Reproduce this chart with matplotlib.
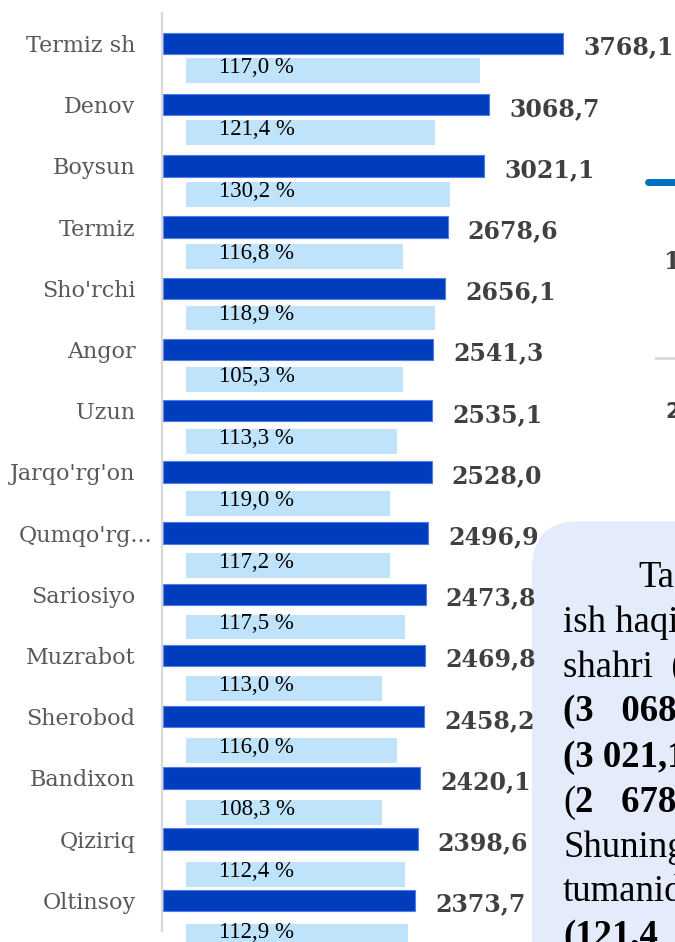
import matplotlib
matplotlib.use("Agg")
import matplotlib.pyplot as plt
from matplotlib.patches import FancyBboxPatch
from matplotlib.lines import Line2D
from matplotlib.transforms import ScaledTranslation

# ---------------- data ----------------
categories = ["Termiz sh", "Denov", "Boysun", "Termiz", "Sho'rchi", "Angor", "Uzun",
              "Jarqo'rg'on", "Qumqo'rg...", "Sariosiyo", "Muzrabot", "Sherobod",
              "Bandixon", "Qiziriq", "Oltinsoy"]
wages = [3768.1, 3068.7, 3021.1, 2678.6, 2656.1, 2541.3, 2535.1, 2528.0,
         2496.9, 2473.8, 2469.8, 2458.2, 2420.1, 2398.6, 2373.7]
growth_pct = [117.0, 121.4, 130.2, 116.8, 118.9, 105.3, 113.3, 119.0,
              117.2, 117.5, 113.0, 116.0, 108.3, 112.4, 112.9]
light_vals = [2770, 2345, 2485, 2040, 2345, 2045, 1990, 1920,
              1920, 2060, 1845, 1990, 1845, 2060, 2090]

box_lines = [("Ta", "normal"), ("ish haqi", "normal"), ("shahri  (", "normal"),
             ("(3   068", "bold"), ("(3 021,1", "bold"), ("2   678", "bold"),
             ("Shuningdek", "normal"), ("tumanida", "normal"), ("(121,4", "bold")]

# ---------------- figure ----------------
W, H = 675, 942
fig = plt.figure(figsize=(W / 100, H / 100), dpi=100)
fig.patch.set_facecolor("white")

DARK = "#003DBD"
DARK_EDGE = "#4F7FE6"
LIGHT = "#BFE3FA"
XMAX = 4820
XMIN = -10

n = len(categories)
pos = list(range(n))

# light series (separate, slightly offset axes)
ax2 = fig.add_axes([162 / W, 1 - 966.9 / H, 513 / W, 927 / H], zorder=2)
ax2.set_facecolor("none")
ax2.barh(pos, light_vals, left=215, height=0.40, color=LIGHT, linewidth=0)
for i, p in enumerate(growth_pct):
    ax2.text(527, i - 0.05, f"{p:.1f} %".replace(".", ","), ha="left", va="center",
             fontsize=16.5, family="Liberation Serif", color="black")
ax2.set_xlim(XMIN, XMAX)
ax2.set_ylim(n - 0.5, -0.5)
ax2.axis("off")

# main series
ax = fig.add_axes([162 / W, 1 - 931 / H, 513 / W, (931 - 12.9) / H], zorder=3)
ax.set_facecolor("none")
ax.barh(pos, wages, height=0.35, color=DARK, edgecolor=DARK_EDGE, linewidth=0.8)
for i, v in enumerate(wages):
    ax.text(v + 188, i + 0.065, f"{v:.1f}".replace(".", ","), ha="left", va="center",
            fontsize=17, fontweight="bold", family="DejaVu Serif", color="#404040",
            clip_on=False)
ax.set_xlim(XMIN, XMAX)
ax.set_ylim(n - 0.5, -0.5)
ax.set_yticks(pos)
ax.set_yticklabels(categories, family="DejaVu Serif", fontsize=16, color="#595959")
ax.set_xticks([])
ax.tick_params(axis="y", length=0, pad=19)
# the truncated label runs further right, as in the original
lab = ax.get_yticklabels()[8]
lab.set_transform(lab.get_transform() + ScaledTranslation(0.17, 0, fig.dpi_scale_trans))
for s in ["top", "right", "bottom"]:
    ax.spines[s].set_visible(False)
ax.spines["left"].set_color("#D9D9D9")
ax.spines["left"].set_linewidth(1.6)

# ---------------- right-hand slide fragments ----------------
box = FancyBboxPatch((5.32, -0.48), 1.9, 4.69,
                     boxstyle="round,pad=0,rounding_size=0.48",
                     transform=fig.dpi_scale_trans, facecolor="#E4EBFB",
                     edgecolor="none", zorder=0.5)
fig.add_artist(box)

baselines = [587, 632, 677, 721, 767, 812, 857, 901, 946]
xstarts = [638, 563, 563, 563, 563, 575, 563, 563, 563]
for (txt, wt), yb, xs in zip(box_lines, baselines, xstarts):
    fig.text(xs / W, 1 - yb / H, txt, ha="left", va="baseline", fontsize=26.5,
             fontweight=wt, family="Liberation Serif", color="black", zorder=1)
fig.text(563 / W, 1 - 812 / H, "(", ha="left", va="baseline", fontsize=26.5,
         family="Liberation Serif", color="black", zorder=1)

fig.add_artist(Line2D([648 / W, 700 / W], [1 - 181.7 / H] * 2, transform=fig.transFigure,
                      lw=5, color="#0070C0", solid_capstyle="round"))
fig.add_artist(Line2D([656 / W, 700 / W], [1 - 358 / H] * 2, transform=fig.transFigure,
                      lw=2, color="#D9D9D9"))
fig.text(663 / W, 1 - 262 / H, "1", ha="left", va="center", fontsize=17,
         fontweight="bold", family="DejaVu Serif", color="#404040")
fig.text(665 / W, 1 - 412 / H, "2", ha="left", va="center", fontsize=15,
         fontweight="bold", family="DejaVu Sans", color="#404040")

fig.savefig("out.png", dpi=100)
